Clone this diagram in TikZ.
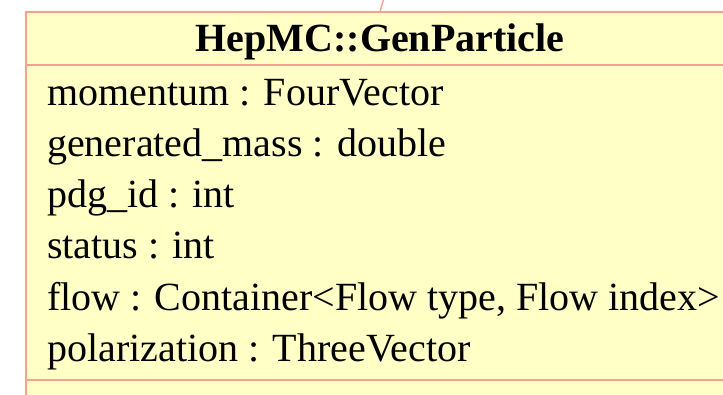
\documentclass[tikz,border=0pt]{standalone}
\usepackage{fontspec}
\setmainfont{Liberation Serif}
\definecolor{umlfill}{HTML}{FFFFC6}
\definecolor{umlline}{HTML}{F5A090}
\tikzset{
  attr/.style={anchor=base west, inner sep=0pt, font=\fontsize{40}{48}\selectfont},
  head/.style={anchor=base, inner sep=0pt, font=\fontsize{40}{48}\selectfont\bfseries},
  umlbox/.style={draw=umlline, fill=umlfill, line width=1.4pt},
  umlsep/.style={draw=umlline, line width=1.4pt},
}
\begin{document}
\begin{tikzpicture}[x=1pt,y=1pt]
\useasboundingbox (0,0) rectangle (723,-394);
\clip (0,0) rectangle (723,-394);
\fill[white] (0,0) rectangle (723,-394);
% class box
\draw[umlbox] (26,-12) rectangle (760,-420);
\coordinate (sepA1) at (26,-65);
\coordinate (sepA2) at (760,-65);
\coordinate (sepB1) at (26,-380);
\coordinate (sepB2) at (760,-380);
\draw[umlsep] (sepA1) -- (sepA2);
\draw[umlsep] (sepB1) -- (sepB2);
% connector coming from above
\coordinate (cTop) at (384,2);
\coordinate (cBot) at (380,-12);
\draw[umlsep] (cTop) -- (cBot);
% header
\node[head] (title) at (380,-51) {HepMC::GenParticle};
% attributes
\node[attr] (a1) at (47,-105) {momentum : FourVector};
\node[attr] (a2) at (47,-156.3) {generated\_mass : double};
\node[attr] (a3) at (47,-207.6) {pdg\_id : int};
\node[attr] (a4) at (47,-258.9) {status : int};
\node[attr] (a5) at (47,-310.2) {flow : Container<Flow type, Flow index>};
\node[attr] (a6) at (47,-361.5) {polarization : ThreeVector};
\end{tikzpicture}
\end{document}
